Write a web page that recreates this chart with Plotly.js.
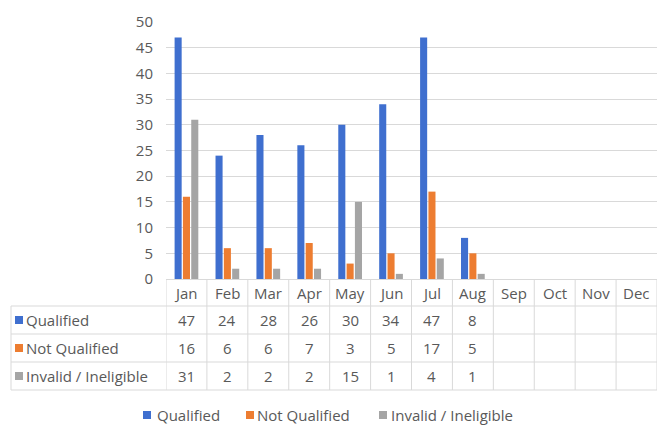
<!DOCTYPE html>
<html><head>
<script src="https://cdn.plot.ly/plotly-3.0.1.min.js"></script>
<style>body{margin:0;background:#fff}</style>
</head><body>
<div id="c" style="width:657px;height:425px"></div>
<script>
const months = ['Jan','Feb','Mar','Apr','May','Jun','Jul','Aug','Sep','Oct','Nov','Dec'];
const seriesNames = ['Qualified','Not Qualified','Invalid / Ineligible'];
const qualified = [47,24,28,26,30,34,47,8,null,null,null,null];
const notQualified = [16,6,6,7,3,5,17,5,null,null,null,null];
const invalid = [31,2,2,2,15,1,4,1,null,null,null,null];
const yTicks = [0,5,10,15,20,25,30,35,40,45,50];

const seriesValues = [qualified, notQualified, invalid];
const colors = ['#3F6FCF','#ED7D31','#A5A5A5'];
const W = 657, H = 425;
const py = p => 1 - p / H;
const px = p => p / W;
const FONT = '"Open Sans", sans-serif';
const FS = 15;
const TXT = '#595959';
const LINE = '#D9D9D9';

const traces = seriesNames.map((n, i) => ({
  type: 'bar', name: n, x: months, y: seriesValues[i],
  marker: {color: colors[i]}, hoverinfo: 'skip'
}));

const shapes = [];
const annotations = [];
const rowTop = 279, headBot = 306, rowH = 28;
const rowLines = [headBot, headBot + rowH, headBot + 2*rowH, headBot + 3*rowH];
const tableBot = rowLines[3];
rowLines.forEach(r => shapes.push({type:'line', xref:'paper', yref:'paper',
  x0: px(11), x1: 1, y0: py(r), y1: py(r), line:{color:LINE, width:1}}));
shapes.push({type:'line', xref:'paper', yref:'paper', x0:px(11), x1:px(11),
  y0: py(headBot), y1: py(tableBot), line:{color:LINE, width:1}});
for (let i = 0; i <= months.length; i++) {
  shapes.push({type:'line', xref:'x', yref:'paper', x0: i - 0.5, x1: i - 0.5,
    y0: py(rowTop), y1: py(tableBot), line:{color:LINE, width:1}});
}
months.forEach(m => annotations.push({xref:'x', yref:'paper', x: m, y: py(rowTop + 14),
  text: m, showarrow:false, xanchor:'center', yanchor:'middle', font:{family:FONT, size:FS, color:TXT}}));
seriesNames.forEach((n, si) => {
  const cy = headBot + rowH * si + rowH / 2;
  shapes.push({type:'rect', xref:'paper', yref:'paper', x0:px(15), x1:px(23),
    y0: py(cy - 4), y1: py(cy + 4), fillcolor: colors[si], line:{width:0}});
  annotations.push({xref:'paper', yref:'paper', x: px(24), y: py(cy), text: n,
    showarrow:false, xanchor:'left', yanchor:'middle', font:{family:FONT, size:FS, color:TXT}});
  seriesValues[si].forEach((v, mi) => {
    if (v === null) return;
    annotations.push({xref:'x', yref:'paper', x: months[mi], y: py(cy), text: String(v),
      showarrow:false, xanchor:'center', yanchor:'middle', font:{family:FONT, size:FS, color:TXT}});
  });
});
const legSq = [143, 246, 379];
const legTx = [155, 255, 389];
const legY = 415;
seriesNames.forEach((n, si) => {
  shapes.push({type:'rect', xref:'paper', yref:'paper', x0:px(legSq[si]), x1:px(legSq[si] + 8),
    y0: py(legY - 4), y1: py(legY + 4), fillcolor: colors[si], line:{width:0}});
  annotations.push({xref:'paper', yref:'paper', x: px(legTx[si]), y: py(legY), text: n,
    showarrow:false, xanchor:'left', yanchor:'middle', font:{family:FONT, size:FS, color:TXT}});
});

const layout = {
  width: W, height: H, margin: {l:0, r:0, t:0, b:0},
  paper_bgcolor:'#fff', plot_bgcolor:'#fff', showlegend:false,
  barmode:'group', bargap:0.39, bargroupgap:0.15,
  font:{family:FONT, size:FS, color:TXT},
  xaxis:{domain:[166/W, 1], type:'category', range:[-0.5, 11.5], showticklabels:false,
    showgrid:false, showline:true, linecolor:LINE, linewidth:1, ticks:'', zeroline:false, fixedrange:true},
  yaxis:{domain:[py(rowTop), py(22)], range:[0, 50], tickvals:yTicks, ticktext: yTicks.map(String),
    showgrid:true, gridcolor:LINE, gridwidth:1, zeroline:false, showline:false, ticks:'',
    ticklabelstandoff:12, tickfont:{family:FONT, size:FS, color:TXT}, fixedrange:true},
  shapes: shapes, annotations: annotations
};
Plotly.newPlot('c', traces, layout, {staticPlot:true});
</script>
</body></html>
